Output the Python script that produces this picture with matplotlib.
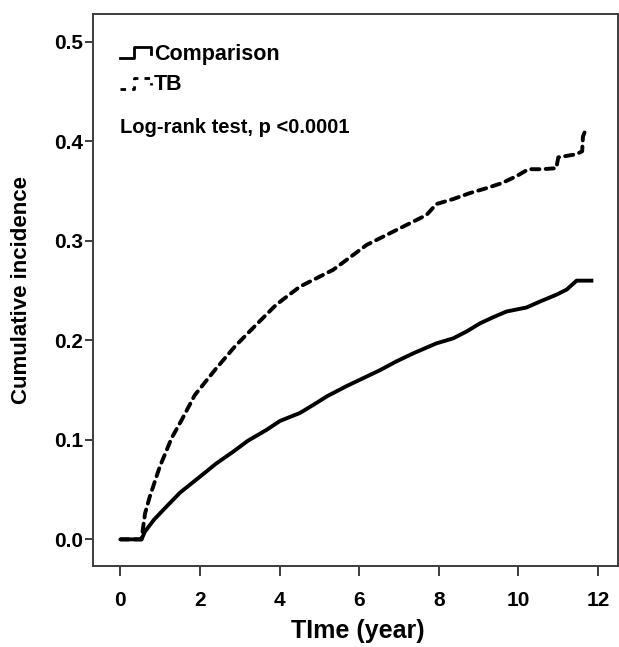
import numpy as np
import matplotlib
matplotlib.use("Agg")
import matplotlib.pyplot as plt
from matplotlib.legend_handler import HandlerBase
from matplotlib.lines import Line2D

# Kaplan-Meier style cumulative incidence curves
comp_time = [0.0, 0.53, 0.62, 0.85, 1.16, 1.5, 2.0, 2.4, 2.83, 3.2, 3.67, 4.01,
             4.51, 4.84, 5.2, 5.68, 6.1, 6.52, 6.94, 7.36, 7.94, 8.36, 8.7,
             9.03, 9.35, 9.7, 10.2, 10.54, 10.96, 11.21, 11.46, 11.88]
comp_inc = [0.0, 0.0, 0.008, 0.02, 0.033, 0.047, 0.063, 0.076, 0.088, 0.099,
            0.11, 0.119, 0.127, 0.135, 0.144, 0.154, 0.162, 0.17, 0.179,
            0.187, 0.197, 0.202, 0.209, 0.217, 0.223, 0.229, 0.233, 0.239,
            0.246, 0.251, 0.26, 0.26]

tb_time = [0.0, 0.53, 0.62, 0.74, 0.99, 1.29, 1.54, 1.87, 2.37, 2.88, 3.42,
           3.92, 4.51, 5.35, 6.19, 6.94, 7.69, 7.94, 8.36, 8.78, 9.2, 9.58,
           9.95, 10.25, 10.6, 10.95, 11.0, 11.45, 11.6, 11.62, 11.7]
tb_inc = [0.0, 0.0, 0.026, 0.043, 0.073, 0.102, 0.12, 0.145, 0.17, 0.194,
          0.216, 0.236, 0.254, 0.271, 0.296, 0.311, 0.326, 0.337, 0.342,
          0.348, 0.353, 0.358, 0.365, 0.372, 0.372, 0.373, 0.384, 0.387,
          0.39, 0.405, 0.413]

x_ticks = [0, 2, 4, 6, 8, 10, 12]
y_ticks = [0.0, 0.1, 0.2, 0.3, 0.4, 0.5]

FONT = ["Liberation Sans", "DejaVu Sans"]
plt.rcParams["font.family"] = FONT
plt.rcParams["font.weight"] = "bold"


class StepHandler(HandlerBase):
    """Draw the SPSS-like step symbol used in the legend."""

    def create_artists(self, legend, orig_handle, xdescent, ydescent,
                       width, height, fontsize, trans):
        xs = np.array([0.0, 0.45, 0.45, 1.0, 1.0]) * width - xdescent
        ys = np.array([0.1, 0.1, 0.85, 0.85, 0.35]) * height - ydescent
        line = Line2D(xs, ys, color="black", linewidth=2.0,
                      linestyle=orig_handle.get_linestyle())
        if orig_handle.get_linestyle() != "-":
            line.set_dashes((2.0, 2.2))
        line.set_transform(trans)
        return [line]


fig = plt.figure(figsize=(6.19, 6.47), dpi=100)
ax = fig.add_axes([0.1507, 0.1256, 0.8477, 0.8528])

ax.plot(comp_time, comp_inc, color="black", linewidth=2.8,
        solid_capstyle="butt", label="Comparison")
tb_line, = ax.plot(tb_time, tb_inc, color="black", linewidth=2.8,
                   linestyle="--", label="TB")
tb_line.set_dashes((2.1, 1.6))
tb_line.set_dash_capstyle("round")

ax.set_xlim(-0.68, 12.5)
ax.set_ylim(-0.0265, 0.528)
ax.set_xticks(x_ticks)
ax.set_yticks(y_ticks)
ax.set_xticklabels([str(v) for v in x_ticks])
ax.set_yticklabels([f"{v:.1f}" for v in y_ticks])

for side in ["top", "bottom", "left", "right"]:
    ax.spines[side].set_color("#3c3c3c")
    ax.spines[side].set_linewidth(1.4)
ax.tick_params(axis="both", which="both", direction="out", color="#3c3c3c",
               width=1.4, labelsize=15, top=False, right=False)
ax.tick_params(axis="x", length=7, pad=11)
ax.tick_params(axis="y", length=6, pad=1.5)

ax.set_xlabel("TIme (year)", fontsize=18, fontweight="bold", va="center")
ax.set_ylabel("Cumulative incidence", fontsize=16, fontweight="bold")
ax.xaxis.set_label_coords(0.504, -0.118)
ax.yaxis.set_label_coords(-0.117, 0.5)

handles = [Line2D([0], [0], color="black", linestyle="-"),
           Line2D([0], [0], color="black", linestyle="--")]
ax.legend(handles, ["Comparison", "TB"], loc="upper left",
          bbox_to_anchor=(0.051, 0.946), frameon=False, borderpad=0,
          borderaxespad=0, handlelength=1.45, handletextpad=0.12,
          labelspacing=0.45, fontsize=15.5,
          handler_map={Line2D: StepHandler()})

ax.text(0.051, 0.795, "Log-rank test, p <0.0001", transform=ax.transAxes,
        fontsize=14.5, fontweight="bold", va="center", ha="left")

fig.savefig("out.png", dpi=100)
